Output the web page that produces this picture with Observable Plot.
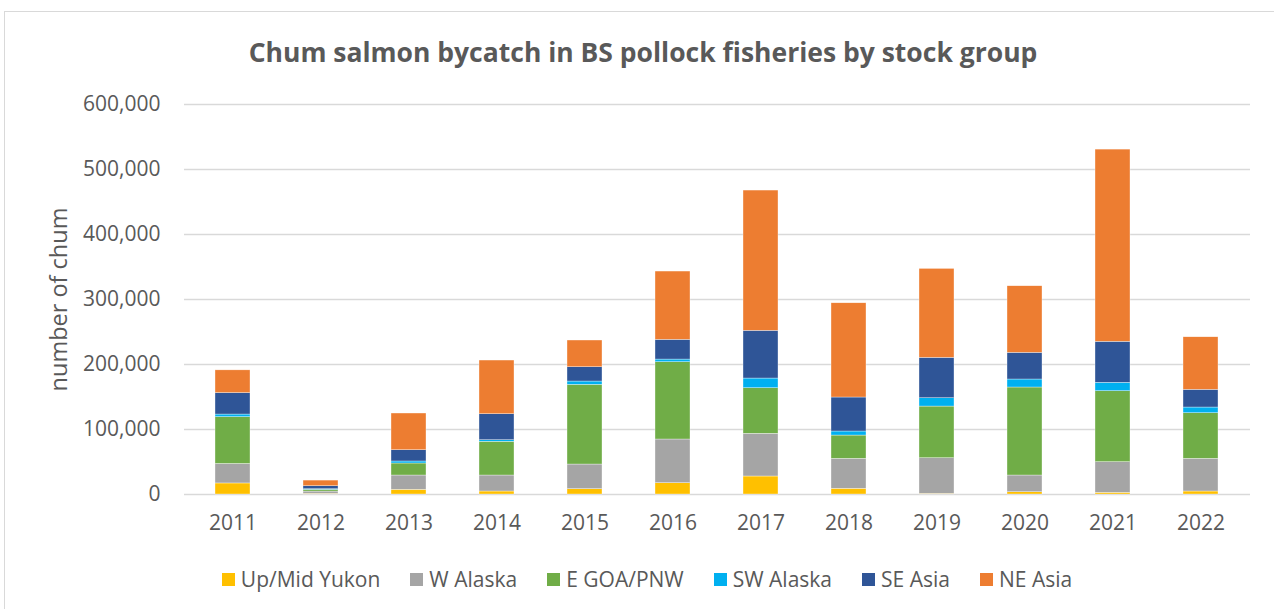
<!DOCTYPE html>
<html>
<head>
<meta charset="utf-8">
<script src="https://cdn.jsdelivr.net/npm/d3@7"></script>
<script src="https://cdn.jsdelivr.net/npm/@observablehq/plot@0.6"></script>
<style>
  html, body { margin: 0; padding: 0; background: #fff; }
  #wrap { position: relative; width: 1274px; height: 609px; overflow: hidden; font-family: "Open Sans", sans-serif; color: #595959; }
  #border { position: absolute; left: 4px; top: 11px; width: 1300px; height: 640px; border: 1px solid #d9d9d9; box-sizing: border-box; }
  #title { position: absolute; left: 0; width: 1274px; top: 34px; text-align: center; font-size: 26.5px; font-weight: 700; line-height: 36px; color: #595959; padding-left: 12px; box-sizing: border-box; }
  #chart { position: absolute; left: 0; top: 80px; }
  #legend { position: absolute; left: 0; top: 565px; width: 1274px; display: flex; justify-content: center; gap: 30px; font-size: 21px; line-height: 28px; padding-left: 20px; box-sizing: border-box; }
  .item { display: flex; align-items: center; gap: 6px; }
  .sw { width: 13px; height: 13px; display: inline-block; }
</style>
</head>
<body>
<div id="wrap">
  <div id="border"></div>
  <div id="title">Chum salmon bycatch in BS pollock fisheries by stock group</div>
  <div id="chart"></div>
  <div id="legend"></div>
</div>
<script>
const years = ["2011","2012","2013","2014","2015","2016","2017","2018","2019","2020","2021","2022"];
const stocks = ["Up/Mid Yukon", "W Alaska", "E GOA/PNW", "SW Alaska", "SE Asia", "NE Asia"];
const colors = ["#FFC000", "#A5A5A5", "#70AD47", "#00B0F0", "#2F5597", "#ED7D31"];
const upMidYukon = [17000, 1000, 7200, 4600, 8200, 17400, 27700, 8800, 1000, 3500, 2600, 4600];
const wAlaska    = [30000, 3500, 22000, 24600, 37900, 67200, 65700, 46100, 54800, 25700, 47100, 50300];
const eGoaPnw    = [72000, 2700, 18500, 51900, 122600, 118900, 70100, 35800, 79500, 135400, 109200, 70100];
const swAlaska   = [4000, 900, 3100, 2400, 5100, 4100, 14900, 6200, 12800, 12300, 12900, 8800];
const seAsia     = [33000, 4600, 17300, 40000, 22000, 30300, 73400, 52300, 62100, 41000, 63100, 27200];
const neAsia     = [35000, 8700, 56500, 82600, 41100, 105100, 215800, 145000, 136900, 102500, 295700, 80900];
const yTicks = [0, 100000, 200000, 300000, 400000, 500000, 600000];

const seriesValues = [upMidYukon, wAlaska, eGoaPnw, swAlaska, seAsia, neAsia];
const rows = [];
stocks.forEach((s, i) => years.forEach((y, j) => rows.push({year: y, stock: s, value: seriesValues[i][j]})));

const plot = Plot.plot({
  width: 1274,
  height: 465,
  marginTop: 24,
  marginBottom: 51,
  marginLeft: 184,
  marginRight: 24,
  style: {fontFamily: "'Open Sans', sans-serif", fontSize: "21px", color: "#595959", background: "transparent"},
  x: {domain: years, paddingInner: 0.6, paddingOuter: 0.3, label: null},
  y: {domain: [0, 600000], label: null},
  color: {domain: stocks, range: colors},
  marks: [
    Plot.gridY(yTicks, {stroke: "#d9d9d9", strokeOpacity: 1, strokeWidth: 1.5}),
    Plot.barY(rows, Plot.stackY({x: "year", y: "value", fill: "stock", z: "stock", order: stocks, stroke: "white", strokeWidth: 0.5, strokeOpacity: 0.7})),
    Plot.axisY({ticks: yTicks, tickSize: 0, tickPadding: 24, tickFormat: d3.format(","), fontSize: 21, fill: "#595959", label: null}),
    Plot.axisX({tickSize: 0, tickPadding: 21, fontSize: 21, fill: "#595959", label: null}),
    Plot.text(["number of chum"], {frameAnchor: "left", rotate: -90, dx: -125, fontSize: 23.5, fill: "#595959", textAnchor: "middle"})
  ]
});
document.getElementById("chart").appendChild(plot);

const legend = document.getElementById("legend");
stocks.forEach((s, i) => {
  const it = document.createElement("div");
  it.className = "item";
  const sw = document.createElement("span");
  sw.className = "sw";
  sw.style.background = colors[i];
  const t = document.createElement("span");
  t.textContent = s;
  it.appendChild(sw); it.appendChild(t);
  legend.appendChild(it);
});
</script>
</body>
</html>
